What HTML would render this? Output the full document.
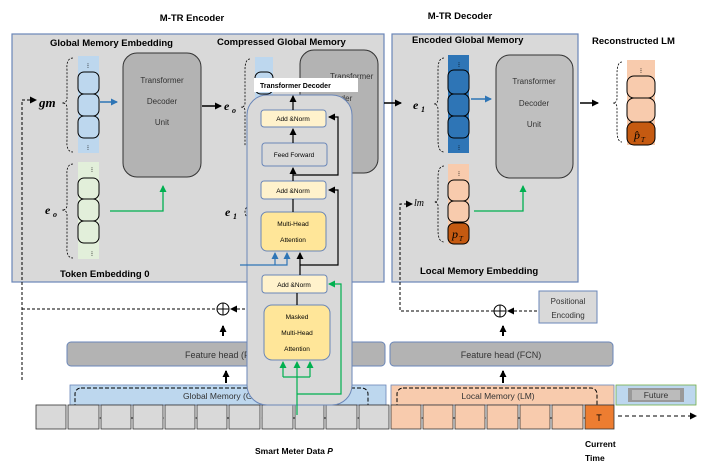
<!DOCTYPE html>
<html><head><meta charset="utf-8"><style>
html,body{margin:0;padding:0;background:#fff}
svg{display:block;font-family:"Liberation Sans",sans-serif}
.b{font-weight:bold;font-size:9.5px}
.m{font-family:"Liberation Serif",serif;font-style:italic;font-weight:bold}
</style></head><body>
<svg width="706" height="470" viewBox="0 0 706 470">
<defs>
<marker id="ak" markerUnits="userSpaceOnUse" markerWidth="7" markerHeight="7" refX="6" refY="3.5" orient="auto"><path d="M0,0L7,3.5L0,7z" fill="#000"/></marker>
<marker id="ab" markerUnits="userSpaceOnUse" markerWidth="7" markerHeight="7" refX="6" refY="3.5" orient="auto"><path d="M0,0L7,3.5L0,7z" fill="#2e75b6"/></marker>
<marker id="ag" markerUnits="userSpaceOnUse" markerWidth="7" markerHeight="7" refX="6" refY="3.5" orient="auto"><path d="M0,0L7,3.5L0,7z" fill="#00b050"/></marker>
</defs>
<text x="192" y="21" class="b" text-anchor="middle" font-size="10">M-TR Encoder</text>
<text x="460" y="19" class="b" text-anchor="middle" font-size="10">M-TR Decoder</text>
<rect x="12" y="34" width="372" height="248" fill="#d9d9d9" stroke="#6a86b8" stroke-width="1.2"/>
<rect x="392" y="34" width="186" height="248" fill="#d9d9d9" stroke="#6a86b8" stroke-width="1.2"/>
<text x="50" y="46" class="b" font-size="8.5">Global Memory Embedding</text>
<text x="217" y="45" class="b" font-size="8.5">Compressed Global Memory</text>
<text x="412" y="43" class="b" font-size="8.5">Encoded Global Memory</text>
<text x="592" y="44" class="b" font-size="8.5">Reconstructed LM</text>
<text x="60" y="277" class="b" font-size="8.5">Token Embedding 0</text>
<text x="420" y="274" class="b" font-size="8.5">Local Memory Embedding</text>

<rect x="78" y="56" width="21" height="97" fill="#bdd7ee"/>
<g fill="#bdd7ee" stroke="#000" stroke-width="1"><rect x="78" y="72" width="21" height="22" rx="6"/><rect x="78" y="94" width="21" height="22" rx="6"/><rect x="78" y="116" width="21" height="22" rx="6"/></g>
<text x="88" y="68" font-size="7" text-anchor="middle">⁝</text><text x="88" y="150" font-size="7" text-anchor="middle">⁝</text>
<path d="M73,58 Q66,58 67,70 L67,98 Q67,103 62,103 Q67,103 67,108 L67,140 Q66,152 73,152" fill="none" stroke="#000" stroke-dasharray="2,1.5" stroke-width="0.8"/>
<text x="39" y="107" class="m" font-size="13">gm</text>
<rect x="123" y="53" width="78" height="124" rx="14" fill="#b3b3b3" stroke="#333"/>
<text x="162" y="83" text-anchor="middle" font-size="8" fill="#333">Transformer</text>
<text x="162" y="104" text-anchor="middle" font-size="8" fill="#333">Decoder</text>
<text x="162" y="125" text-anchor="middle" font-size="8" fill="#333">Unit</text>
<line x1="100" y1="102" x2="117" y2="102" stroke="#2e75b6" stroke-width="1.5" marker-end="url(#ab)"/>
<line x1="202" y1="106" x2="221" y2="106" stroke="#000" stroke-width="1.5" marker-end="url(#ak)"/>
<text x="224" y="110" class="m" font-size="12">e</text><text x="232" y="113" class="m" font-size="8">o</text>
<rect x="78" y="162" width="21" height="97" fill="#e2efda"/>
<g fill="#e2efda" stroke="#000"><rect x="78" y="178" width="21" height="21" rx="6"/><rect x="78" y="199" width="21" height="22" rx="6"/><rect x="78" y="221" width="21" height="22" rx="6"/></g>
<text x="92" y="172" font-size="7" text-anchor="middle">⁝</text><text x="92" y="256" font-size="7" text-anchor="middle">⁝</text>
<path d="M73,164 Q66,164 67,176 L67,205 Q67,210 62,210 Q67,210 67,215 L67,246 Q66,258 73,258" fill="none" stroke="#000" stroke-dasharray="2,1.5" stroke-width="0.8"/>
<text x="45" y="214" class="m" font-size="12">e</text><text x="53" y="217" class="m" font-size="8">o</text>
<polyline points="110,211 163,211 163,186" fill="none" stroke="#00b050" stroke-width="1.3" marker-end="url(#ag)"/>
<rect x="255" y="57" width="18" height="90" fill="#bdd7ee"/>
<rect x="255" y="72" width="18" height="22" rx="6" fill="#bdd7ee" stroke="#000"/>
<path d="M250,59 Q245,59 245,70 L245,103 Q245,107 241,107 Q245,107 245,111 L245,146" fill="none" stroke="#000" stroke-dasharray="2,1.5" stroke-width="0.8"/>
<text x="225" y="216" class="m" font-size="12">e</text><text x="233" y="219" class="m" font-size="8">1</text>
<path d="M249,205 Q245,208 245,212 Q245,216 249,219" fill="none" stroke="#000" stroke-dasharray="2,1.5" stroke-width="0.8"/>
<rect x="300" y="50" width="78" height="123" rx="14" fill="#b3b3b3" stroke="#333"/>
<text x="330" y="79" font-size="8" fill="#333">Transformer</text>
<text x="322" y="101" font-size="8" fill="#333">Decoder</text>
<line x1="384" y1="103" x2="401" y2="103" stroke="#000" stroke-width="1.5" marker-end="url(#ak)"/>

<rect x="448" y="55" width="21" height="98" fill="#2e75b6"/>
<g fill="#2e75b6" stroke="#000"><rect x="448" y="70" width="21" height="24" rx="6"/><rect x="448" y="94" width="21" height="22" rx="6"/><rect x="448" y="116" width="21" height="22" rx="6"/></g>
<text x="459" y="67" font-size="7" text-anchor="middle">⁝</text><text x="459" y="150" font-size="7" text-anchor="middle">⁝</text>
<path d="M444,58 Q438,58 438,70 L438,98 Q438,104 434,104 Q438,104 438,110 L438,140 Q438,152 444,152" fill="none" stroke="#000" stroke-dasharray="2,1.5" stroke-width="0.8"/>
<text x="413" y="109" class="m" font-size="12">e</text><text x="421" y="112" class="m" font-size="8">1</text>
<rect x="496" y="55" width="77" height="123" rx="14" fill="#bfbfbf" stroke="#333"/>
<text x="534" y="84" text-anchor="middle" font-size="8" fill="#333">Transformer</text>
<text x="534" y="106" text-anchor="middle" font-size="8" fill="#333">Decoder</text>
<text x="534" y="127" text-anchor="middle" font-size="8" fill="#333">Unit</text>
<line x1="471" y1="99" x2="491" y2="99" stroke="#2e75b6" stroke-width="1.5" marker-end="url(#ab)"/>
<line x1="580" y1="103" x2="598" y2="103" stroke="#000" stroke-width="1.5" marker-end="url(#ak)"/>
<rect x="448" y="164" width="21" height="80" fill="#f8cbad"/>
<g stroke="#000"><rect x="448" y="180" width="21" height="21" rx="6" fill="#f8cbad"/><rect x="448" y="201" width="21" height="21" rx="6" fill="#f8cbad"/><rect x="448" y="223" width="21" height="21" rx="6" fill="#c55a11"/></g>
<text x="459" y="176" font-size="7" text-anchor="middle">⁝</text>
<text x="452" y="238" font-family="Liberation Serif,serif" font-style="italic" font-size="12">p</text><text x="459" y="241" font-family="Liberation Serif,serif" font-style="italic" font-size="7">T</text>
<path d="M444,166 Q438,166 438,178 L438,198 Q438,202 434,202 Q438,202 438,206 L438,230 Q438,242 444,242" fill="none" stroke="#000" stroke-dasharray="2,1.5" stroke-width="0.8"/>
<text x="414" y="206" font-family="Liberation Serif,serif" font-style="italic" font-size="10">lm</text>
<polyline points="474,211 523,211 523,186" fill="none" stroke="#00b050" stroke-width="1.3" marker-end="url(#ag)"/>
<rect x="627" y="60" width="28" height="85" fill="#f8cbad"/>
<g stroke="#000"><rect x="627" y="76" width="28" height="22" rx="7" fill="#f8cbad"/><rect x="627" y="98" width="28" height="24" rx="7" fill="#f8cbad"/><rect x="627" y="122" width="28" height="23" rx="7" fill="#c55a11"/></g>
<text x="641" y="73" font-size="7" text-anchor="middle">⁝</text>
<text x="634" y="139" font-family="Liberation Serif,serif" font-style="italic" font-size="12">p̂</text><text x="641" y="142" font-family="Liberation Serif,serif" font-style="italic" font-size="7">T</text>
<path d="M622,62 Q617,62 617,74 L617,98 Q617,103 613,103 Q617,103 617,108 L617,130 Q617,142 622,142" fill="none" stroke="#000" stroke-dasharray="2,1.5" stroke-width="0.8"/>

<polyline points="22,380 22,100 36,100" fill="none" stroke="#000" stroke-dasharray="3,2" stroke-width="1" marker-end="url(#ak)"/>
<line x1="22" y1="309" x2="218" y2="309" stroke="#000" stroke-dasharray="3,2"/>
<circle cx="223" cy="309" r="6" fill="#fff" stroke="#000"/><path d="M217,309h12M223,303v12" stroke="#000"/>
<line x1="250" y1="309" x2="231" y2="309" stroke="#000" stroke-dasharray="3,2" marker-end="url(#ak)"/>
<line x1="223" y1="336" x2="223" y2="326" stroke="#000" stroke-width="2" marker-end="url(#ak)"/>
<rect x="67" y="342" width="318" height="24" rx="4" fill="#b3b3b3" stroke="#6a86b8"/>
<text x="185" y="358" font-size="9" fill="#333">Feature head (FCN)</text>
<line x1="226" y1="383" x2="226" y2="371" stroke="#000" stroke-width="2" marker-end="url(#ak)"/>
<rect x="70" y="385" width="316" height="20" fill="#bdd7ee" stroke="#6a86b8" stroke-width="0.8"/>
<rect x="75" y="388" width="293" height="30" rx="6" fill="none" stroke="#000" stroke-dasharray="4,2"/>
<text x="183" y="399" font-size="8.5" fill="#333">Global Memory (GM)</text>
<rect x="390" y="342" width="223" height="24" rx="4" fill="#b3b3b3" stroke="#6a86b8"/>
<text x="501" y="358" font-size="9" text-anchor="middle" fill="#333">Feature head (FCN)</text>
<line x1="503" y1="383" x2="503" y2="371" stroke="#000" stroke-width="2" marker-end="url(#ak)"/>
<line x1="503" y1="336" x2="503" y2="326" stroke="#000" stroke-width="2" marker-end="url(#ak)"/>
<circle cx="500" cy="311" r="6" fill="#fff" stroke="#000"/><path d="M494,311h12M500,305v12" stroke="#000"/>
<polyline points="494,311 400,311 400,204 412,204" fill="none" stroke="#000" stroke-dasharray="3,2" marker-end="url(#ak)"/>
<line x1="537" y1="311" x2="508" y2="311" stroke="#000" stroke-dasharray="3,2" marker-end="url(#ak)"/>
<rect x="539" y="291" width="58" height="32" fill="#d9d9d9" stroke="#6a86b8"/>
<text x="568" y="304" font-size="8" text-anchor="middle" fill="#333">Positional</text>
<text x="568" y="318" font-size="8" text-anchor="middle" fill="#333">Encoding</text>
<rect x="391" y="385" width="223" height="20" fill="#f8cbad" stroke="#6a86b8" stroke-width="0.8"/>
<rect x="397" y="388" width="200" height="30" rx="6" fill="none" stroke="#000" stroke-dasharray="4,2"/>
<text x="498" y="399" font-size="8.5" text-anchor="middle" fill="#333">Local Memory (LM)</text>
<rect x="616" y="385" width="80" height="20" fill="#bdd7ee" stroke="#70ad47" stroke-width="0.8"/>
<rect x="628" y="388" width="56" height="14" fill="#999"/><rect x="632" y="390" width="48" height="10" fill="#bbb"/>
<text x="656" y="398" font-size="8.5" text-anchor="middle" fill="#333">Future</text>
<g stroke="#333" stroke-width="0.8">
<rect x="36" y="405" width="30" height="24" fill="#d9d9d9"/><rect x="68" y="405" width="31" height="24" fill="#d9d9d9"/><rect x="101" y="405" width="30" height="24" fill="#d9d9d9"/><rect x="133" y="405" width="30" height="24" fill="#d9d9d9"/><rect x="165" y="405" width="30" height="24" fill="#d9d9d9"/><rect x="197" y="405" width="30" height="24" fill="#d9d9d9"/><rect x="229" y="405" width="31" height="24" fill="#d9d9d9"/><rect x="262" y="405" width="31" height="24" fill="#d9d9d9"/><rect x="295" y="405" width="29" height="24" fill="#d9d9d9"/><rect x="326" y="405" width="31" height="24" fill="#d9d9d9"/><rect x="359" y="405" width="30" height="24" fill="#d9d9d9"/>
<rect x="391" y="405" width="30" height="24" fill="#f8cbad"/><rect x="423" y="405" width="30" height="24" fill="#f8cbad"/><rect x="455" y="405" width="30" height="24" fill="#f8cbad"/><rect x="487" y="405" width="31" height="24" fill="#f8cbad"/><rect x="520" y="405" width="30" height="24" fill="#f8cbad"/><rect x="552" y="405" width="31" height="24" fill="#f8cbad"/><rect x="585" y="405" width="29" height="24" fill="#ed7d31"/>
</g>
<text x="599" y="421" font-size="9" text-anchor="middle">T</text>
<line x1="618" y1="416" x2="696" y2="416" stroke="#000" stroke-dasharray="4,3" marker-end="url(#ak)"/>
<text x="255" y="454" font-weight="bold" font-size="8.5">Smart Meter Data <tspan font-style="italic">P</tspan></text>
<text x="585" y="447" font-weight="bold" font-size="8.5">Current</text>
<text x="585" y="461" font-weight="bold" font-size="8.5">Time</text>

<rect x="247" y="95" width="105" height="310" rx="20" fill="#d9d9d9" stroke="#6a86b8"/>
<rect x="254" y="78" width="104" height="14" fill="#fff"/>
<text x="260" y="88" font-weight="bold" font-size="7">Transformer Decoder</text>
<rect x="261" y="110" width="65" height="17" rx="3" fill="#fff2cc" stroke="#6a86b8"/>
<text x="293" y="121" font-size="6.5" text-anchor="middle">Add &amp;Norm</text>
<rect x="262" y="143" width="65" height="23" rx="3" fill="#d9d9d9" stroke="#6a86b8"/>
<text x="294" y="157" font-size="6.5" text-anchor="middle">Feed Forward</text>
<rect x="261" y="181" width="65" height="18" rx="3" fill="#fff2cc" stroke="#6a86b8"/>
<text x="293" y="193" font-size="6.5" text-anchor="middle">Add &amp;Norm</text>
<rect x="261" y="212" width="65" height="39" rx="6" fill="#ffe699" stroke="#6a86b8"/>
<text x="293" y="226" font-size="6.5" text-anchor="middle">Multi-Head</text>
<text x="293" y="242" font-size="6.5" text-anchor="middle">Attention</text>
<rect x="262" y="275" width="65" height="18" rx="3" fill="#fff2cc" stroke="#6a86b8"/>
<text x="294" y="287" font-size="6.5" text-anchor="middle">Add &amp;Norm</text>
<rect x="264" y="305" width="66" height="55" rx="8" fill="#ffe699" stroke="#6a86b8"/>
<text x="297" y="319" font-size="6.5" text-anchor="middle">Masked</text>
<text x="297" y="335" font-size="6.5" text-anchor="middle">Multi-Head</text>
<text x="297" y="351" font-size="6.5" text-anchor="middle">Attention</text>
<g stroke="#000" stroke-width="1.2" fill="none">
<line x1="293" y1="110" x2="293" y2="96" marker-end="url(#ak)"/>
<line x1="293" y1="143" x2="293" y2="129" marker-end="url(#ak)"/>
<line x1="293" y1="181" x2="293" y2="168" marker-end="url(#ak)"/>
<line x1="293" y1="212" x2="293" y2="199"/>
<polyline points="293,175 338,175 338,117 329,117" marker-end="url(#ak)"/>
<line x1="300" y1="275" x2="300" y2="253" marker-end="url(#ak)"/>
<polyline points="300,265 338,265 338,190 329,190" marker-end="url(#ak)"/>
<line x1="297" y1="305" x2="297" y2="293"/>
</g>
<g stroke="#2e75b6" stroke-width="1.2" fill="none">
<polyline points="240,265 287,265 287,253" marker-end="url(#ab)"/>
<line x1="275" y1="265" x2="275" y2="253" marker-end="url(#ab)"/>
</g>
<g stroke="#00b050" stroke-width="1.2" fill="none">
<line x1="297" y1="415" x2="297" y2="362" marker-end="url(#ag)"/>
<polyline points="283,377 310,377"/>
<line x1="283" y1="377" x2="283" y2="362" marker-end="url(#ag)"/>
<line x1="310" y1="377" x2="310" y2="362" marker-end="url(#ag)"/>
<polyline points="297,394 341,394 341,284 329,284" marker-end="url(#ag)"/>
</g>
</svg>
</body></html>
